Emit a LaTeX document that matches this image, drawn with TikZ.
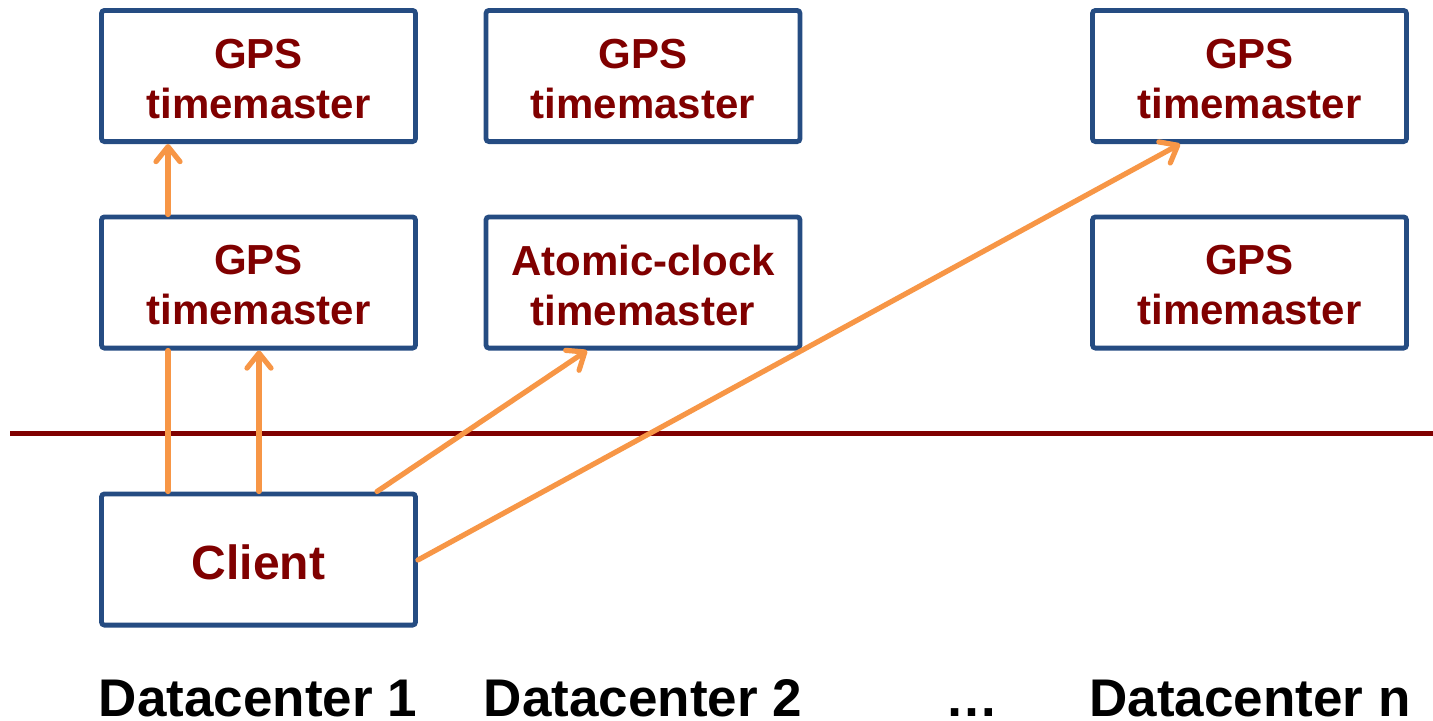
\documentclass[tikz,border=0pt]{standalone}
\usepackage{fontspec}
\setmainfont{Liberation Sans}
\usetikzlibrary{arrows.meta}
\definecolor{boxblue}{RGB}{37,76,130}
\definecolor{darkred}{RGB}{128,0,0}
\definecolor{linkorange}{RGB}{247,150,70}
\tikzset{
  server/.style={draw=boxblue, line width=2.4pt, fill=white, rounded corners=1.5pt,
    minimum width=157pt, minimum height=65.6pt, inner sep=0pt},
  servertext/.style={inner sep=0pt, align=center, text=darkred,
    font=\fontsize{21}{25}\selectfont\bfseries},
  clienttext/.style={servertext, font=\fontsize{24}{28}\selectfont\bfseries},
  link/.style={draw=linkorange, line width=2.6pt, line cap=round},
  linkarrow/.style={link, -{Straight Barb[length=7.5pt,width=12pt,line width=2.6pt,round]}},
  dclabel/.style={anchor=base, inner sep=0pt, font=\fontsize{26.5}{30}\selectfont\bfseries},
  divider/.style={draw=darkred, line width=2.5pt}
}
\begin{document}
\begin{tikzpicture}[x=0.5pt, y=-0.5pt]
\useasboundingbox (0,0) rectangle (1433,720);

% top row
\node[server] (gps1a) at (258.5,76) {};
\node[server] (gps2)  at (643,76)   {};
\node[server] (gpsna) at (1249.5,76) {};
% second row
\node[server] (gps1b) at (258.5,282.5) {};
\node[server] (atom2) at (643,282.5)   {};
\node[server] (gpsnb) at (1249.5,282.5) {};
% client
\node[server] (client) at (258.5,559.5) {};

% box captions
\node[servertext] (gps1aT) at ([yshift=-1.5pt]gps1a.center) {GPS\\timemaster};
\node[servertext] (gps2T)  at ([yshift=-1.5pt]gps2.center)  {GPS\\timemaster};
\node[servertext] (gpsnaT) at ([yshift=-1.5pt]gpsna.center) {GPS\\timemaster};
\node[servertext] (gps1bT) at ([yshift=-1.5pt]gps1b.center) {GPS\\timemaster};
\node[servertext] (atom2T) at ([yshift=-1.5pt]atom2.center) {Atomic-clock\\timemaster};
\node[servertext] (gpsnbT) at ([yshift=-1.5pt]gpsnb.center) {GPS\\timemaster};
\node[clienttext] (clientT) at ([yshift=-1.5pt]client.center) {Client};

% divider between servers and client
\coordinate (divL) at (10,433);
\coordinate (divR) at (1433,433);
\draw[divider] (divL) -- (divR);

% requests from the client
\draw[link] (client.north -| 168,0) -- (gps1b.south -| 168,0);
\draw[linkarrow] (gps1b.north -| 168,0) -- (gps1a.south -| 168,0);
\draw[linkarrow] (client.north -| 259,0) -- (gps1b.south -| 259,0);
\draw[linkarrow] (client.north -| 377,0) -- (atom2.south -| 587,0);
\draw[linkarrow] (client.east |- 0,560) -- (gpsna.south -| 1180,0);

% datacenter labels
\node[dclabel] (dc1) at (258,716) {Datacenter 1};
\node[dclabel] (dc2) at (643,716) {Datacenter 2};
\node[dclabel] (dots) at (972,716) {…};
\node[dclabel] (dcn) at (1250,716) {Datacenter n};
\end{tikzpicture}
\end{document}
